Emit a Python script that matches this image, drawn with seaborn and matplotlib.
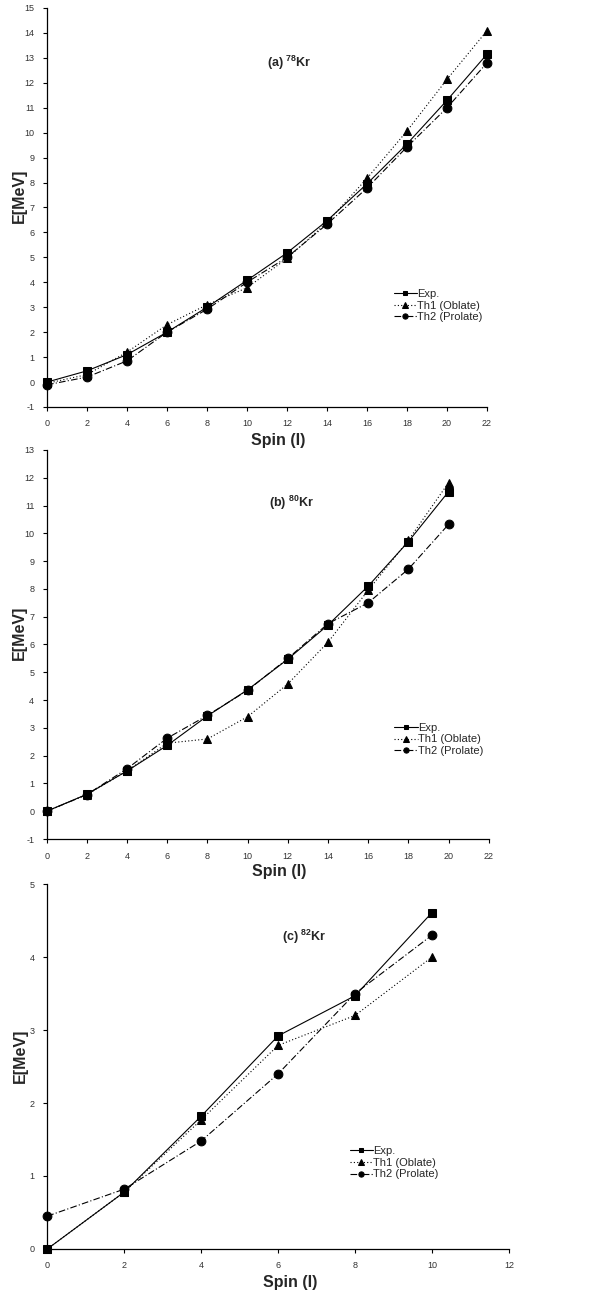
import matplotlib
matplotlib.use("Agg")
import matplotlib.pyplot as plt
import seaborn as sns
import numpy as np
import pandas as pd

sns.set_style("ticks")
plt.rcParams['font.family'] = ['Liberation Sans', 'DejaVu Sans']
plt.rcParams['mathtext.fontset'] = 'custom'
plt.rcParams['mathtext.rm'] = 'Liberation Sans'
plt.rcParams['mathtext.bf'] = 'Liberation Sans:bold'
plt.rcParams['axes.unicode_minus'] = False

# ---- Data ----
spin_a = [0, 2, 4, 6, 8, 10, 12, 14, 16, 18, 20, 22]
exp_a = [0.0, 0.45, 1.1, 2.0, 3.0, 4.08, 5.18, 6.47, 7.95, 9.55, 11.3, 13.15]
th1_a = [-0.05, 0.3, 1.2, 2.3, 3.1, 3.78, 4.96, 6.4, 8.17, 10.07, 12.14, 14.09]
th2_a = [-0.11, 0.2, 0.85, 2.0, 2.92, 4.0, 5.0, 6.33, 7.78, 9.43, 11.0, 12.8]

spin_b = [0, 2, 4, 6, 8, 10, 12, 14, 16, 18, 20]
exp_b = [0.0, 0.61, 1.45, 2.37, 3.43, 4.37, 5.47, 6.7, 8.1, 9.7, 11.5]
th1_b = [0.0, 0.6, 1.45, 2.45, 2.6, 3.4, 4.58, 6.08, 7.95, 9.75, 11.82]
th2_b = [0.0, 0.6, 1.53, 2.63, 3.45, 4.35, 5.5, 6.75, 7.5, 8.71, 10.32]

spin_c = [0, 2, 4, 6, 8, 10]
exp_c = [0.0, 0.78, 1.82, 2.92, 3.47, 4.61]
th1_c = [0.0, 0.78, 1.77, 2.79, 3.2, 4.0]
th2_c = [0.45, 0.82, 1.48, 2.4, 3.5, 4.3]

series_labels = ["Exp.", "Th1 (Oblate)", "Th2 (Prolate)"]
panel_titles = [r"(a) $^{\mathbf{78}}$Kr", r"(b) $^{\mathbf{80}}$Kr", r"(c) $^{\mathbf{82}}$Kr"]

panels = [
    dict(x=spin_a, ys=[exp_a, th1_a, th2_a], ylim=(-1, 15), xlim=(0, 22), xticks=range(0, 23, 2),
         yticks=range(-1, 16), rect=[0.0781, 0.6845, 0.7309, 0.3093], title_xy=(12.1, 12.8),
         leg=(0.775, 0.31), ylx=-0.045),
    dict(x=spin_b, ys=[exp_b, th1_b, th2_b], ylim=(-1, 13), xlim=(0, 22), xticks=range(0, 23, 2),
         yticks=range(-1, 14), rect=[0.0776, 0.3496, 0.7342, 0.3016], title_xy=(12.2, 11.1),
         leg=(0.774, 0.313), ylx=-0.045),
    dict(x=spin_c, ys=[exp_c, th1_c, th2_c], ylim=(0, 5), xlim=(0, 12), xticks=range(0, 13, 2),
         yticks=range(0, 6), rect=[0.0786, 0.0318, 0.7669, 0.2829], title_xy=(6.67, 4.27),
         leg=(0.643, 0.297), ylx=-0.043),
]

styles = [
    dict(marker="s", linestyle="-", ms=5.8),
    dict(marker="^", linestyle=(0, (1, 2)), ms=6.3),
    dict(marker="o", linestyle=(0, (6, 2, 1, 2)), ms=6.3),
]

fig = plt.figure(figsize=(6.02, 12.90), dpi=100)

for i, p in enumerate(panels):
    ax = fig.add_axes(p["rect"])
    for lab, y, st in zip(series_labels, p["ys"], styles):
        df = pd.DataFrame({"Spin": p["x"], "E": y})
        sns.lineplot(data=df, x="Spin", y="E", ax=ax, color="black", lw=0.8,
                     marker=st["marker"], markersize=st["ms"], markeredgecolor="black",
                     linestyle=st["linestyle"], label=lab, clip_on=False)
    ax.set_xlim(*p["xlim"])
    ax.set_ylim(*p["ylim"])
    ax.set_xticks(list(p["xticks"]))
    ax.set_yticks(list(p["yticks"]))
    ax.tick_params(axis="both", labelsize=6.5, length=3, width=0.8, direction="out", pad=6,
                   color="black", labelcolor="#333333")
    for s in ["top", "right"]:
        ax.spines[s].set_visible(False)
    for s in ["left", "bottom"]:
        ax.spines[s].set_linewidth(0.9)
        ax.spines[s].set_color("black")
    ax.set_xlabel("Spin (I)", fontsize=11.5, fontweight="bold", labelpad=4)
    ax.xaxis.set_label_coords(0.525, -0.065 if i < 2 else -0.07)
    ax.set_ylabel("E[MeV]", fontsize=11.5, fontweight="bold")
    ax.yaxis.set_label_coords(p["ylx"], 0.53)
    ax.text(p["title_xy"][0], p["title_xy"][1], panel_titles[i], fontsize=9, fontweight="bold",
            ha="center", va="center")
    leg = ax.legend(loc="upper left", bbox_to_anchor=p["leg"], frameon=False, fontsize=8,
                    handlelength=2.1, handletextpad=0.0, labelspacing=0.15, borderpad=0,
                    markerscale=0.6)

fig.savefig("out.png", dpi=100)
